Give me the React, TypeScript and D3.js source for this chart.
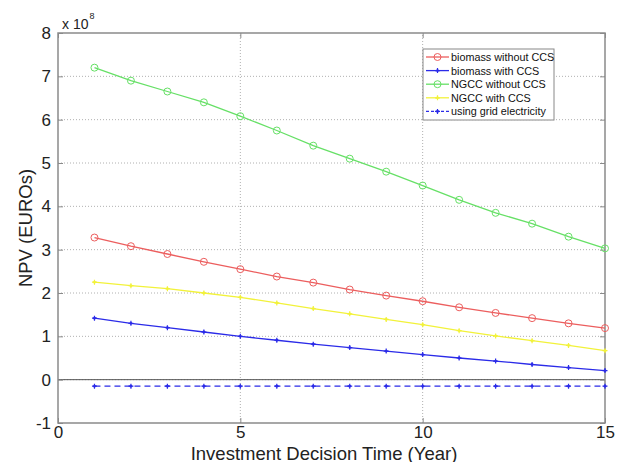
import React, { useEffect, useRef } from "react";
import * as d3 from "d3";

// values in units of 1e8 euros
const years = [1, 2, 3, 4, 5, 6, 7, 8, 9, 10, 11, 12, 13, 14, 15];
const biomassNoCCS = [3.28, 3.08, 2.9, 2.72, 2.55, 2.38, 2.24, 2.08, 1.94, 1.81, 1.67, 1.54, 1.42, 1.3, 1.19];
const biomassCCS = [1.42, 1.3, 1.2, 1.1, 1.0, 0.91, 0.82, 0.74, 0.66, 0.58, 0.5, 0.43, 0.35, 0.28, 0.21];
const ngccNoCCS = [7.2, 6.9, 6.65, 6.4, 6.08, 5.75, 5.4, 5.1, 4.8, 4.48, 4.15, 3.85, 3.6, 3.3, 3.03];
const ngccCCS = [2.25, 2.17, 2.1, 2.0, 1.9, 1.77, 1.64, 1.52, 1.39, 1.27, 1.13, 1.01, 0.9, 0.79, 0.67];
const gridElec = [-0.15, -0.15, -0.15, -0.15, -0.15, -0.15, -0.15, -0.15, -0.15, -0.15, -0.15, -0.15, -0.15, -0.15, -0.15];

const xTicks = [0, 5, 10, 15];
const yTicks = [-1, 0, 1, 2, 3, 4, 5, 6, 7, 8];

const series = [
  { name: "biomass without CCS", values: biomassNoCCS, color: "#ec5e5e", marker: "circle", dash: null },
  { name: "biomass with CCS", values: biomassCCS, color: "#2b2be8", marker: "dot", dash: null },
  { name: "NGCC without CCS", values: ngccNoCCS, color: "#66e066", marker: "circle", dash: null },
  { name: "NGCC with CCS", values: ngccCCS, color: "#f2f23a", marker: "dot", dash: null },
  { name: "using grid electricity", values: gridElec, color: "#2b2be8", marker: "dot", dash: "6,4" },
];

function App() {
  const svgRef = useRef<SVGSVGElement>(null);

  useEffect(() => {
    const W = 623;
    const H = 462;
    const M = { left: 58, right: 18, top: 33, bottom: 39 };
    const svg = d3.select(svgRef.current).attr("width", W).attr("height", H);
    svg.selectAll("*").remove();
    const font = "'Liberation Sans', Arial, sans-serif";

    const x = d3.scaleLinear().domain([0, 15]).range([M.left, W - M.right]);
    const y = d3.scaleLinear().domain([-1, 8]).range([H - M.bottom, M.top]);
    const axisColor = "#8a8a8a";

    const g = svg.append("g");

    // dotted grid
    g.selectAll(".hgrid")
      .data(yTicks.filter((t) => t > -1 && t < 8))
      .join("line")
      .attr("x1", x(0)).attr("x2", x(15))
      .attr("y1", (d) => y(d)).attr("y2", (d) => y(d))
      .attr("stroke", "#b0b0b0").attr("stroke-width", 1).attr("stroke-dasharray", "1,2");
    g.selectAll(".vgrid")
      .data(xTicks.filter((t) => t > 0 && t < 15))
      .join("line")
      .attr("y1", y(-1)).attr("y2", y(8))
      .attr("x1", (d) => x(d)).attr("x2", (d) => x(d))
      .attr("stroke", "#b0b0b0").attr("stroke-width", 1).attr("stroke-dasharray", "1,2");

    // zero line
    g.append("line")
      .attr("x1", x(0)).attr("x2", x(15))
      .attr("y1", y(0)).attr("y2", y(0))
      .attr("stroke", "#555").attr("stroke-width", 1);

    // box + ticks
    g.append("rect")
      .attr("x", x(0)).attr("y", y(8))
      .attr("width", x(15) - x(0)).attr("height", y(-1) - y(8))
      .attr("fill", "none").attr("stroke", axisColor).attr("stroke-width", 1.5);

    const left = d3.axisLeft(y).tickValues(yTicks).tickSize(-5).tickPadding(7).tickFormat((d) => String(d));
    const la = g.append("g").attr("transform", `translate(${x(0)},0)`).call(left);
    const bottom = d3.axisBottom(x).tickValues(xTicks).tickSize(-5).tickPadding(3).tickFormat((d) => String(d));
    const ba = g.append("g").attr("transform", `translate(0,${y(-1)})`).call(bottom);
    const right = d3.axisRight(y).tickValues(yTicks).tickSize(-5).tickFormat(() => "");
    const ra = g.append("g").attr("transform", `translate(${x(15)},0)`).call(right);
    const top = d3.axisTop(x).tickValues(xTicks).tickSize(-5).tickFormat(() => "");
    const ta = g.append("g").attr("transform", `translate(0,${y(8)})`).call(top);
    [la, ba, ra, ta].forEach((a) => {
      a.select(".domain").remove();
      a.selectAll(".tick line").attr("stroke", axisColor);
      a.selectAll("text").attr("font-family", font).attr("font-size", 17).attr("fill", "#222");
    });

    // exponent label
    const ex = g.append("text").attr("x", 62).attr("y", 29).attr("font-family", font).attr("font-size", 14).attr("fill", "#222");
    ex.append("tspan").text("x 10");
    ex.append("tspan").attr("dy", -10).attr("dx", 1).attr("font-size", 9).text("8");

    // axis titles
    g.append("text")
      .attr("x", 324).attr("y", 459.5)
      .attr("text-anchor", "middle")
      .attr("font-family", font).attr("font-size", 18.5).attr("fill", "#222")
      .text("Investment Decision Time (Year)");
    g.append("text")
      .attr("transform", `translate(32,${y(3.5)}) rotate(-90)`)
      .attr("text-anchor", "middle")
      .attr("font-family", font).attr("font-size", 18.5).attr("fill", "#222")
      .text("NPV (EUROs)");

    const line = d3.line<number>().x((_, i) => x(years[i])).y((d) => y(d));

    const drawMarker = (sel: any, s: any, cx: number, cy: number) => {
      if (s.marker === "circle") {
        sel.append("circle").attr("cx", cx).attr("cy", cy).attr("r", 3.5)
          .attr("fill", "none").attr("stroke", s.color).attr("stroke-width", 1);
      } else {
        sel.append("path")
          .attr("d", `M${cx - 2.5},${cy}H${cx + 2.5}M${cx},${cy - 2.5}V${cy + 2.5}`)
          .attr("stroke", s.color).attr("stroke-width", 1.2);
        sel.append("circle").attr("cx", cx).attr("cy", cy).attr("r", 1.4).attr("fill", s.color);
      }
    };

    series.forEach((s) => {
      const sg = g.append("g");
      sg.append("path")
        .datum(s.values)
        .attr("d", line)
        .attr("fill", "none")
        .attr("stroke", s.color)
        .attr("stroke-width", 1.3)
        .attr("stroke-dasharray", s.dash);
      s.values.forEach((v, i) => drawMarker(sg, s, x(years[i]), y(v)));
    });

    // legend
    const lg = g.append("g").attr("transform", "translate(423,49)");
    lg.append("rect").attr("width", 131).attr("height", 71)
      .attr("fill", "#fff").attr("stroke", "#888").attr("stroke-width", 1);
    series.forEach((s, i) => {
      const ly = 8 + i * 13.6;
      lg.append("line").attr("x1", 3).attr("x2", 26).attr("y1", ly).attr("y2", ly)
        .attr("stroke", s.color).attr("stroke-width", 1.3).attr("stroke-dasharray", s.dash ? "3,2" : null);
      drawMarker(lg, s, 14.5, ly);
      lg.append("text").attr("x", 28).attr("y", ly + 4)
        .attr("font-family", font).attr("font-size", 10.8).attr("fill", "#111")
        .text(s.name);
    });
  }, []);

  return <svg ref={svgRef} style={{ position: "absolute", left: 0, top: 0 }}></svg>;
}

export default App;
